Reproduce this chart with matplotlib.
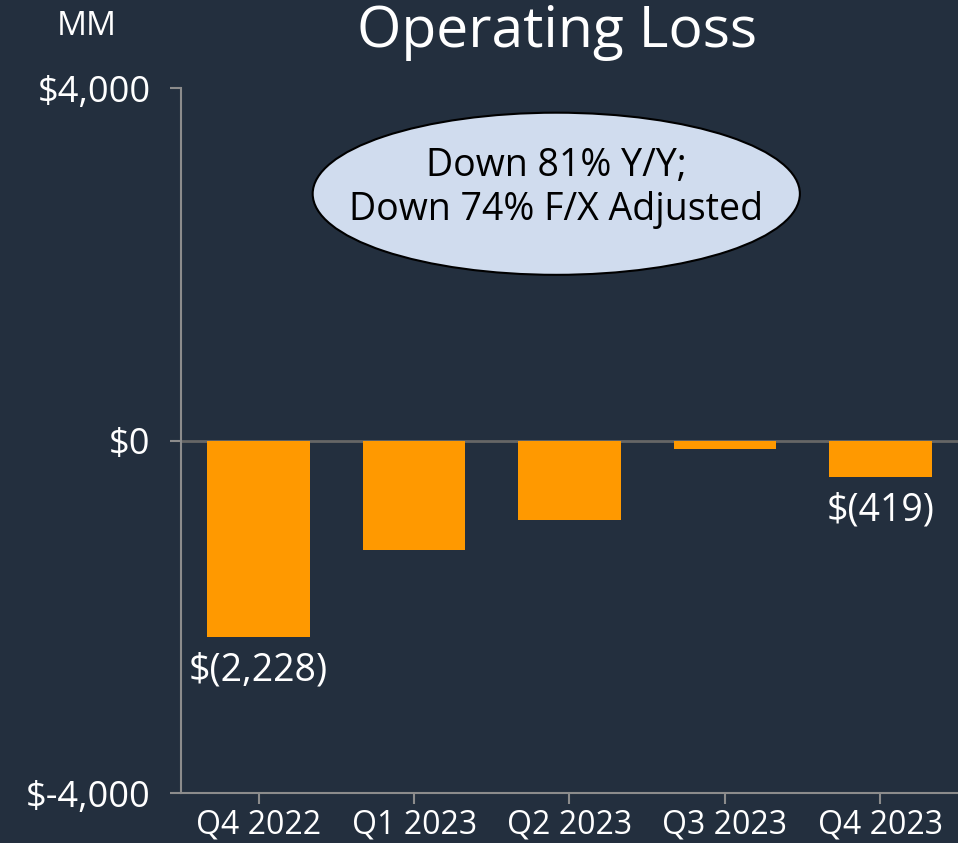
import matplotlib
matplotlib.use("Agg")
import matplotlib.pyplot as plt
from matplotlib.patches import Ellipse

quarters = ["Q4 2022", "Q1 2023", "Q2 2023", "Q3 2023", "Q4 2023"]
operating_loss = [-2228, -1240, -900, -100, -419]
labels = {0: "$(2,228)", 4: "$(419)"}
y_ticks = [4000, 0, -4000]
y_tick_labels = ["$4,000", "$0", "$-4,000"]

bg = "#232f3e"
orange = "#ff9900"
grey = "#8c8c8c"

plt.rcParams["font.family"] = ["Open Sans", "DejaVu Sans"]

fig = plt.figure(figsize=(9.58, 8.43), dpi=100, facecolor=bg)
ax = fig.add_axes([0.1889, 0.0593, 0.8111, 0.8363])
ax.set_facecolor(bg)

x = range(len(quarters))
ax.bar(x, operating_loss, width=0.66, color=orange, zorder=3)
ax.axhline(0, color="#666666", lw=2, zorder=2)

ax.set_xlim(-0.5, 4.5)
ax.set_ylim(-4000, 4000)
ax.set_yticks(y_ticks)
ax.set_yticklabels(y_tick_labels)
ax.set_xticks(list(x))
ax.set_xticklabels(quarters)

for s in ["top", "right"]:
    ax.spines[s].set_visible(False)
for s in ["left", "bottom"]:
    ax.spines[s].set_color(grey)
    ax.spines[s].set_linewidth(1.5)
ax.tick_params(colors=grey, width=1.5, length=8)
ax.tick_params(axis="y", labelcolor="white", labelsize=26, pad=14)
ax.tick_params(axis="x", labelcolor="white", labelsize=23, pad=3)

for i, txt in labels.items():
    ax.annotate(txt, (i, operating_loss[i]), xytext=(0, -24), textcoords="offset points",
                ha="center", va="center", color="white", fontsize=27)

ell = Ellipse((0.483, 0.850), 0.627, 0.230, transform=ax.transAxes,
              facecolor="#d0dcee", edgecolor="black", lw=1.5, zorder=5)
ax.add_patch(ell)
ax.text(0.483, 0.858, "Down 81% Y/Y;\nDown 74% F/X Adjusted", transform=ax.transAxes,
        ha="center", va="center", fontsize=27, color="black", zorder=6, linespacing=1.2)

fig.text(0.581, 0.962, "Operating Loss", ha="center", va="center", color="white", fontsize=41)
fig.text(0.091, 0.969, "MM", ha="center", va="center", color="white", fontsize=24)

fig.savefig("out.png", dpi=100, facecolor=bg)
